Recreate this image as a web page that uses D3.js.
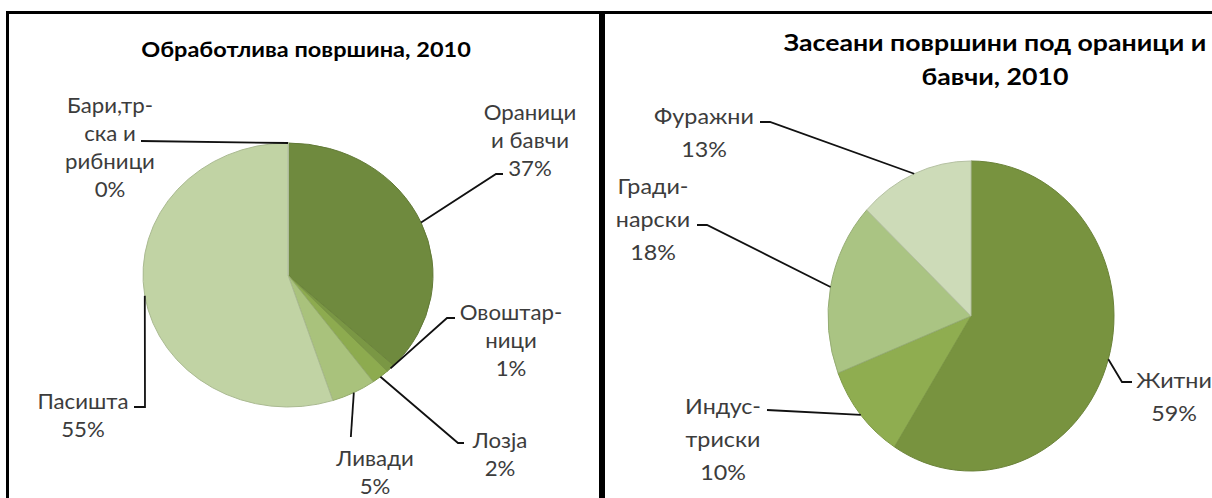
<!DOCTYPE html>
<html>
<head>
<meta charset="utf-8">
<script src="https://cdn.jsdelivr.net/npm/d3@7"></script>
<style>
  body { margin: 0; background: #fff; }
  svg { display: block; font-family: Lato, "Open Sans", sans-serif; }
</style>
</head>
<body>
<svg id="chart" width="1212" height="498"></svg>
<script>
/* Two Excel-style pies side by side: arable land and sown areas, 2010. */
const STRETCH = 1.06;   // the source text is drawn a little wide

// left pie: обработлива површина
const fieldCategories = ['Ораници и бавчи', 'Овоштарници', 'Лозја', 'Ливади', 'Пасишта', 'Бари, трска и рибници'];
const fieldValues = [37, 1, 2, 5, 55, 0];
const fieldLabelLines = [['Ораници', 'и бавчи'], ['Овоштар-', 'ници'], ['Лозја'], ['Ливади'], ['Пасишта'], ['Бари,тр-', 'ска и', 'рибници']];
const fieldColors = ['#6f8a3e', '#7a9744', '#8dab4f', '#a9c27c', '#c1d3a4', '#d3e0be'];

// right pie: засеани површини под ораници и бавчи
const cropCategories = ['Житни', 'Индустриски', 'Градинарски', 'Фуражни'];
const cropValues = [59, 10, 18, 13];
const cropLabelLines = [['Житни'], ['Индус-', 'триски'], ['Гради-', 'нарски'], ['Фуражни']];
const cropColors = ['#78933f', '#8fad50', '#aac483', '#cddbb8'];

// label placement: text centre, first line y, leader elbow and end
const fieldLayout = [
    {x: 530, y: 112, elbow: [496, 174], end: [503, 174]},
    {x: 511, y: 312, elbow: [447, 318], end: [455, 318]},
    {x: 500, y: 440, elbow: [458, 443], end: [464, 443]},
    {x: 375, y: 458, elbow: null, end: 437},
    {x: 83, y: 401, elbow: [145, 407], end: [134, 407]},
    {x: 110, y: 105, elbow: null, end: [141, 141]}
];
const cropLayout = [
    {x: 1174, y: 380, elbow: [1122, 382], end: [1132, 382]},
    {x: 723, y: 406, elbow: null, end: [767, 410]},
    {x: 653, y: 186, elbow: [707, 225], end: [697, 225]},
    {x: 704, y: 116, elbow: [770, 122], end: [760, 122]}
];

const svg = d3.select('#chart');

// panel frames
svg.append('rect').attr('x', 7.5).attr('y', 12.5).attr('width', 593).attr('height', 520)
    .attr('fill', '#fff').attr('stroke', '#000').attr('stroke-width', 3);
svg.append('rect').attr('x', 603.5).attr('y', 12.5).attr('width', 700).attr('height', 520)
    .attr('fill', '#fff').attr('stroke', '#000').attr('stroke-width', 3);

function stretchedText(parent, x, y, str, size, opts = {}) {
    parent.append('g')
        .attr('transform', `translate(${x},${y}) scale(${opts.stretch || STRETCH},1)`)
        .append('text')
        .attr('text-anchor', 'middle')
        .attr('dominant-baseline', 'central')
        .attr('font-size', size)
        .attr('font-weight', opts.bold ? 700 : 400)
        .attr('fill', opts.color || '#3c3c3c')
        .text(str);
}

function makePie({cx, cy, rx, ry, values, colors, lines, layout, lineGap, fontSize}) {
    const pie = d3.pie().sort(null).value(d => d);
    const arcs = pie(values);
    const arc = d3.arc().innerRadius(0).outerRadius(rx);
    const g = svg.append('g').attr('transform', `translate(${cx},${cy}) scale(1,${ry / rx})`);
    g.selectAll('path').data(arcs).enter().append('path')
        .attr('d', arc)
        .attr('fill', (d, i) => colors[i])
        .attr('stroke', (d, i) => d3.color(colors[i]).darker(0.35))
        .attr('stroke-width', 1)
        .attr('vector-effect', 'non-scaling-stroke');

    // leader lines start on the rim at the middle of each slice
    arcs.forEach((a, i) => {
        const mid = (a.startAngle + a.endAngle) / 2;
        const edge = [cx + rx * Math.sin(mid), cy - ry * Math.cos(mid)];
        const L = layout[i];
        let pts;
        if (typeof L.end === 'number') pts = [edge, [edge[0] - 3, L.end]];
        else if (L.elbow) pts = [edge, L.elbow, L.end];
        else pts = [edge, L.end];
        svg.append('path')
            .attr('d', d3.line()(pts))
            .attr('fill', 'none')
            .attr('stroke', '#111')
            .attr('stroke-width', 1.8);

        const textLines = lines[i].concat([d3.format('.0f')(values[i]) + '%']);
        textLines.forEach((t, j) => stretchedText(svg, L.x, L.y + j * lineGap, t, fontSize));
    });
}

// left panel
stretchedText(svg, 306, 49, 'Обработлива површина, 2010', 21, {bold: true, color: '#000', stretch: 1.12});
makePie({cx: 288, cy: 275, rx: 145, ry: 132, values: fieldValues, colors: fieldColors,
    lines: fieldLabelLines, layout: fieldLayout, lineGap: 28, fontSize: 21});

// right panel
stretchedText(svg, 995, 42, 'Засеани површини под ораници и', 23, {bold: true, color: '#000', stretch: 1.16});
stretchedText(svg, 995, 76, 'бавчи, 2010', 23, {bold: true, color: '#000', stretch: 1.16});
makePie({cx: 971, cy: 316, rx: 143, ry: 155, values: cropValues, colors: cropColors,
    lines: cropLabelLines, layout: cropLayout, lineGap: 33, fontSize: 22});
</script>
</body>
</html>
